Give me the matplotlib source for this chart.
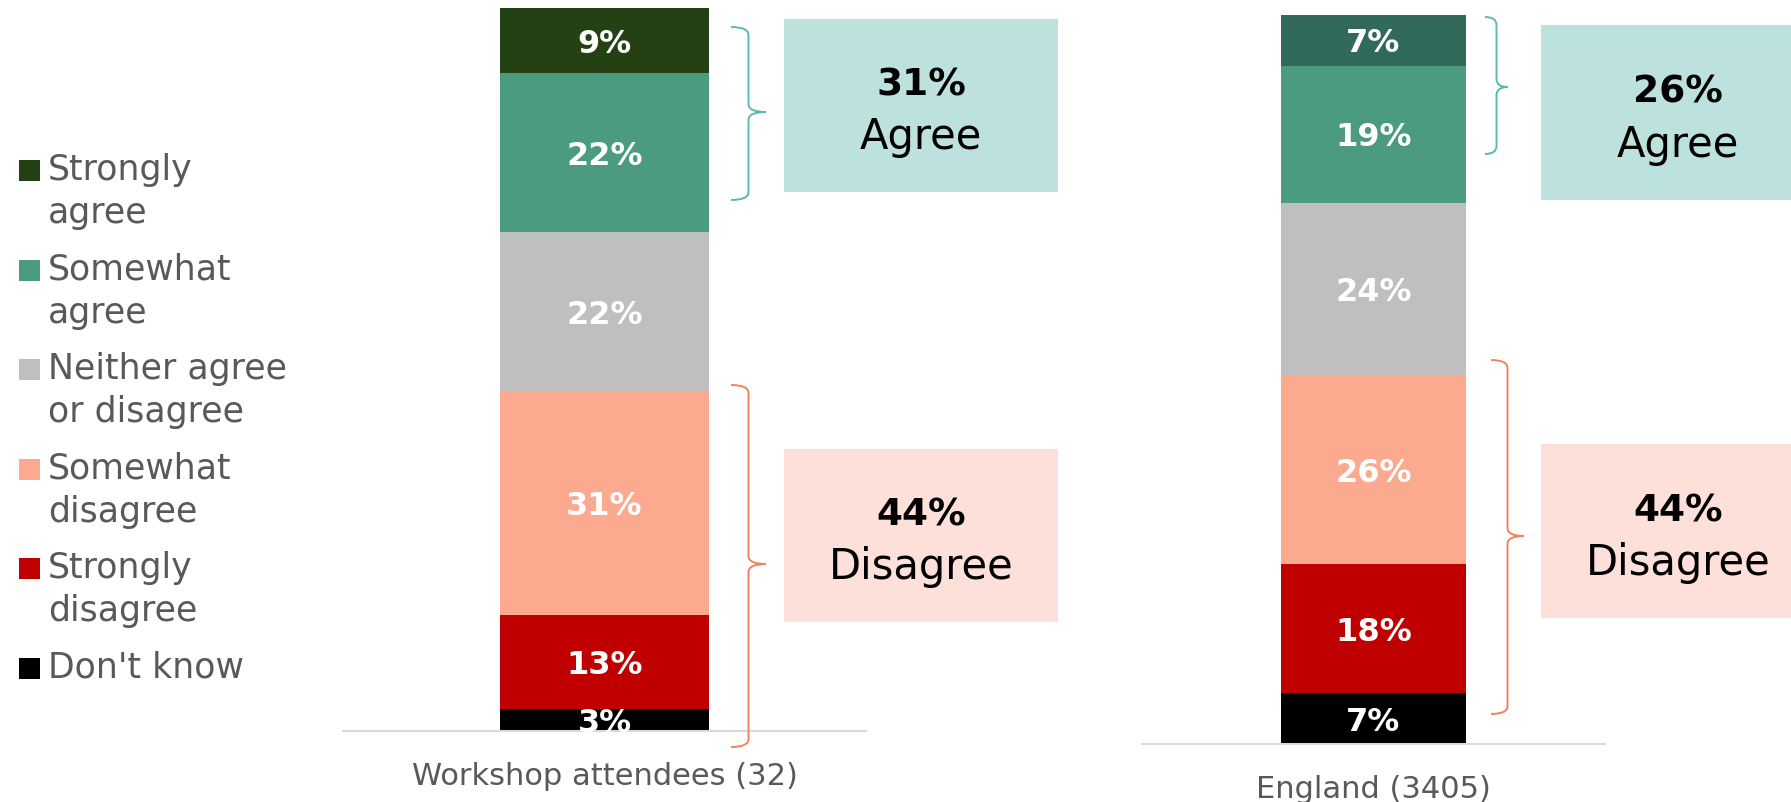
import matplotlib.pyplot as plt
from matplotlib.path import Path
from matplotlib.patches import PathPatch, Rectangle

# data
categorias = ['Strongly agree', 'Somewhat agree', 'Neither agree or disagree',
              'Somewhat disagree', 'Strongly disagree', "Don't know"]
legenda = [['Strongly', 'agree'], ['Somewhat', 'agree'], ['Neither agree', 'or disagree'],
           ['Somewhat', 'disagree'], ['Strongly', 'disagree'], ["Don't know"]]
workshop = [9, 22, 22, 31, 13, 3]
england = [7, 19, 24, 26, 18, 7]
grupos = ['Workshop attendees (32)', 'England (3405)']

cores_workshop = ['#244113', '#4B9B80', '#BFBFBF', '#FBA98F', '#C00000', '#000000']
cores_england = ['#31695A', '#4B9B80', '#BFBFBF', '#FBA98F', '#C00000', '#000000']

W, H = 1791, 802
CINZA = '#595959'
plt.rcParams['font.family'] = ['DejaVu Sans']

fig = plt.figure(figsize=(W / 100, H / 100), dpi=100)


def eixo(x0, x1, ytop, ybot):
    return fig.add_axes([x0 / W, 1 - ybot / H, (x1 - x0) / W, (ybot - ytop) / H])


def barra(ax, valores, cores, rotulo):
    base = 0
    for v, c in zip(reversed(valores), reversed(cores)):
        ax.bar(0, v, bottom=base, width=0.4, color=c)
        ax.text(0, base + v / 2, '{}%'.format(v), ha='center', va='center_baseline',
                color='white', fontsize=23, fontweight='bold', clip_on=False)
        base += v
    ax.set_xlim(-0.5, 0.5)
    ax.set_ylim(0, sum(valores))
    for s in ['top', 'left', 'right']:
        ax.spines[s].set_visible(False)
    ax.spines['bottom'].set_color('#D9D9D9')
    ax.spines['bottom'].set_linewidth(1.5)
    ax.set_yticks([])
    ax.set_xticks([0])
    ax.set_xticklabels([rotulo], fontsize=22, color=CINZA)
    ax.tick_params(axis='x', length=0, pad=22)


ax1 = eixo(343, 866, 8, 731)
barra(ax1, workshop, cores_workshop, grupos[0])
ax2 = eixo(1142, 1605, 15, 744)
barra(ax2, england, cores_england, grupos[1])

# overlay for annotations in pixel coords
ov = fig.add_axes([0, 0, 1, 1])
ov.set_xlim(0, W)
ov.set_ylim(H, 0)
ov.axis('off')
ov.patch.set_alpha(0)


def chave(x0, x1, ytop, ybot, ytip, cor):
    xm = x0 + (x1 - x0) * 0.5
    r = 8
    verts = [(x0, ytop), (xm, ytop), (xm, ytop + r),
             (xm, ytip - r), (xm, ytip), (x1, ytip),
             (xm, ytip), (xm, ytip + r),
             (xm, ybot - r), (xm, ybot), (x0, ybot)]
    codes = [Path.MOVETO, Path.CURVE3, Path.CURVE3,
             Path.LINETO, Path.CURVE3, Path.CURVE3,
             Path.CURVE3, Path.CURVE3,
             Path.LINETO, Path.CURVE3, Path.CURVE3]
    ov.add_patch(PathPatch(Path(verts, codes), fill=False, edgecolor=cor, lw=1.4))


def caixa(x0, x1, ytop, ybot, cor, pct, texto):
    ov.add_patch(Rectangle((x0, ytop), x1 - x0, ybot - ytop, color=cor, lw=0))
    xc = (x0 + x1) / 2
    yc = (ytop + ybot) / 2
    ov.text(xc, yc - 20, '{}%'.format(pct), ha='center', va='center',
            fontsize=27, fontweight='bold', color='black')
    ov.text(xc, yc + 32, texto, ha='center', va='center', fontsize=30, color='black')


TEAL, CORAL = '#5DB8AF', '#F4825F'
AGREE_BG, DIS_BG = '#BDE1DD', '#FDE0D9'

chave(731, 766, 27, 200, 112, TEAL)
chave(731, 766, 385, 747, 564, CORAL)
chave(1485, 1508, 17, 154, 87, TEAL)
chave(1491, 1524, 360, 714, 536, CORAL)

caixa(784, 1058, 19, 192, AGREE_BG, workshop[0] + workshop[1], 'Agree')
caixa(784, 1058, 449, 622, DIS_BG, workshop[3] + workshop[4], 'Disagree')
caixa(1541, 1815, 25, 200, AGREE_BG, england[0] + england[1], 'Agree')
caixa(1541, 1815, 444, 618, DIS_BG, england[3] + england[4], 'Disagree')

# legend
for i, (linhas, cor) in enumerate(zip(legenda, cores_workshop)):
    y = 170 + 99.6 * i
    ov.add_patch(Rectangle((19, y - 10), 21, 21, color=cor, lw=0))
    for j, linha in enumerate(linhas):
        ov.text(48, y + 43 * j, linha, ha='left', va='center', fontsize=25, color=CINZA)

fig.savefig('out.png', dpi=100)
